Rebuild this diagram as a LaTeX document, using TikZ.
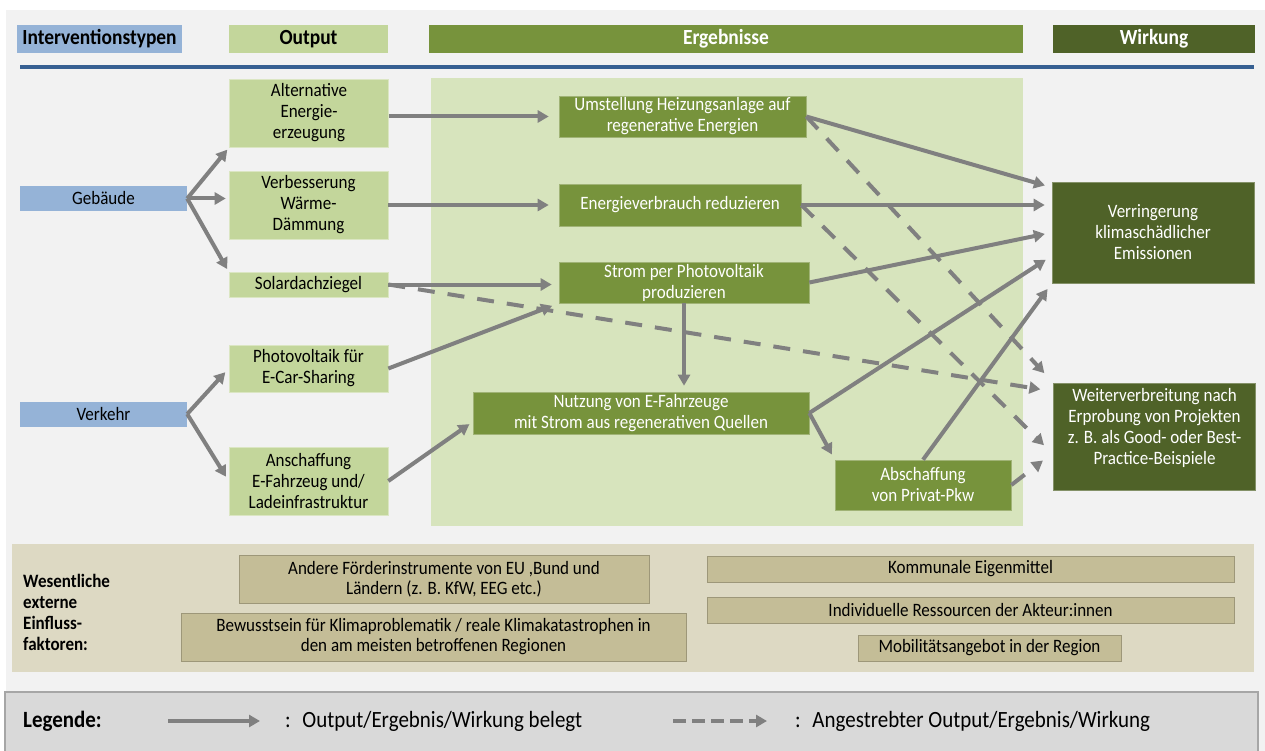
\documentclass[tikz,border=0pt]{standalone}
\usepackage{fontspec}
\setmainfont{Carlito}[FakeStretch=0.9]
\usetikzlibrary{arrows.meta}
\definecolor{bg_grey}{HTML}{F2F2F2}
\definecolor{iv_blue}{HTML}{95B3D7}
\definecolor{out_green}{HTML}{C3D69B}
\definecolor{erg_green}{HTML}{77933C}
\definecolor{wirk_green}{HTML}{4F6228}
\definecolor{area_green}{HTML}{D7E4BD}
\definecolor{line_blue}{HTML}{376092}
\definecolor{arr_grey}{HTML}{808080}
\definecolor{ext_beige}{HTML}{DDD9C3}
\definecolor{ext_box}{HTML}{C4BD97}
\definecolor{leg_grey}{HTML}{D9D9D9}
\definecolor{leg_line}{HTML}{A6A6A6}
\newcommand{\bxfont}{\fontsize{18.9}{21}\selectfont}
\newcommand{\hdfont}{\fontsize{21.6}{23}\selectfont\bfseries}
\newcommand{\lgfont}{\fontsize{23.3}{25}\selectfont}
\tikzstyle{hdr}=[rectangle,inner sep=0pt,minimum height=28pt,font=\hdfont]
\tikzstyle{ivn}=[rectangle,fill=iv_blue,inner sep=0pt,
  minimum width=167pt,minimum height=25pt,font=\bxfont]
\tikzstyle{otn}=[rectangle,fill=out_green,draw=out_green!60!white,line width=0.6pt,
  inner sep=0pt,minimum width=159pt,align=center,font=\bxfont]
\tikzstyle{ern}=[rectangle,fill=erg_green,draw=erg_green!70!white,line width=0.6pt,
  inner sep=0pt,align=center,text=white,font=\bxfont]
\tikzstyle{wkn}=[rectangle,fill=wirk_green,draw=wirk_green!70!white,line width=0.6pt,
  inner sep=0pt,minimum width=202pt,align=center,text=white,font=\bxfont]
\tikzstyle{exn}=[rectangle,fill=ext_box,draw=ext_box!80!black,line width=0.6pt,
  inner sep=0pt,align=center,font=\fontsize{18.9}{20}\selectfont]
\tikzstyle{arr}=[draw=arr_grey,line width=4pt,
  -{Triangle[length=11pt,width=12pt]},shorten >=7pt]
\tikzstyle{darr}=[arr,dash pattern=on 17pt off 13pt]
\tikzstyle{none}=[]

\begin{document}
\begin{tikzpicture}[x=1pt, y=-1pt]
	\useasboundingbox (0, 0) rectangle (1265, 751);
	\fill [bg_grey] (6, 10) rectangle (1265, 751);
	\fill [area_green] (431, 78) rectangle (1023, 526);
	\fill [ext_beige] (12, 544) rectangle (1254, 672);
	\draw [fill=leg_grey, draw=leg_line, line width=1.5pt] (5, 692) rectangle (1258, 760);
	\draw [line_blue, line width=3.5pt] (20, 67) to (1254, 67);

	\node [style=hdr, fill=iv_blue, minimum width=165pt] (0) at (99.5, 39) {Interventionstypen};
	\node [style=hdr, fill=out_green, minimum width=159pt] (1) at (308.5, 39) {Output};
	\node [style=hdr, fill=erg_green, text=white, minimum width=594pt] (2) at (726, 39) {Ergebnisse};
	\node [style=hdr, fill=wirk_green, text=white, minimum width=202pt] (3) at (1154, 39) {Wirkung};

	\node [style=ivn] (4) at (103.5, 198.5) {Gebäude};
	\node [style=ivn] (5) at (103.5, 414) {Verkehr};

	\node [style=otn, minimum height=68pt] (6) at (309, 113) {Alternative\\Energie-\\erzeugung};
	\node [style=otn, minimum height=68pt] (7) at (308.5, 205) {Verbesserung\\Wärme-\\Dämmung};
	\node [style=otn, minimum height=25pt] (8) at (308.5, 284.5) {Solardachziegel};
	\node [style=otn, minimum height=47pt] (9) at (308.5, 368.5) {Photovoltaik für\\E-Car-Sharing};
	\node [style=otn, minimum height=68pt] (10) at (308.5, 481) {Anschaffung\\E-Fahrzeug und/\\Ladeinfrastruktur};

	\node [style=ern, minimum width=247pt, minimum height=41pt] (11) at (682.5, 116.5) {Umstellung Heizungsanlage auf\\regenerative Energien};
	\node [style=ern, minimum width=242pt, minimum height=42pt] (12) at (680, 205) {Energieverbrauch reduzieren};
	\node [style=ern, minimum width=250pt, minimum height=41pt] (13) at (684, 282.5) {Strom per Photovoltaik\\produzieren};
	\node [style=ern, minimum width=336pt, minimum height=42pt] (14) at (641, 413) {Nutzung von E-Fahrzeuge\\mit Strom aus regenerativen Quellen};
	\node [style=ern, minimum width=176pt, minimum height=50pt] (15) at (923, 485) {Abschaffung\\von Privat-Pkw};

	\node [style=wkn, minimum height=101pt] (16) at (1153, 232.5) {Verringerung\\klimaschädlicher\\Emissionen};
	\node [style=wkn, minimum height=107pt] (17) at (1154.5, 436.5) {Weiterverbreitung nach\\Erprobung von Projekten\\z. B. als Good- oder Best-\\Practice-Beispiele\\\mbox{}};

	\node [style=none, inner sep=0pt, anchor=west, align=left, font=\bxfont\bfseries] (18) at (23, 612) {Wesentliche\\externe\\Einfluss-\\faktoren:};
	\node [style=exn, minimum width=410pt, minimum height=48pt] (19) at (444, 579) {Andere Förderinstrumente von EU ,Bund und\\Ländern (z. B. KfW, EEG etc.)};
	\node [style=exn, minimum width=505pt, minimum height=48pt] (20) at (433.5, 637) {Bewusstsein für Klimaproblematik / reale Klimakatastrophen in\\den am meisten betroffenen Regionen};
	\node [style=exn, minimum width=527pt, minimum height=26pt] (21) at (970.5, 569) {Kommunale Eigenmittel};
	\node [style=exn, minimum width=527pt, minimum height=26pt] (22) at (970.5, 610) {Individuelle Ressourcen der Akteur:innen};
	\node [style=exn, minimum width=263pt, minimum height=26pt] (23) at (989.5, 648) {Mobilitätsangebot in der Region};

	\node [style=none, inner sep=0pt, anchor=west, font=\lgfont\bfseries] (24) at (23, 721) {Legende:};
	\coordinate (25) at (168, 721);
	\coordinate (26) at (260, 721);
	\node [style=none, inner sep=0pt, anchor=west, font=\lgfont] (27) at (285, 721) {:\enspace Output/Ergebnis/Wirkung belegt};
	\coordinate (28) at (673, 721);
	\coordinate (29) at (767, 721);
	\node [style=none, inner sep=0pt, anchor=west, font=\lgfont] (30) at (795, 721) {:\enspace Angestrebter Output/Ergebnis/Wirkung};

	\draw [style=arr, shorten >=3pt] (4.east) to (6.south west);
	\draw [style=arr, shorten >=3pt] (4.east) to (4.east -| 7.west);
	\draw [style=arr, shorten >=3pt] (4.east) to (8.north west);
	\draw [style=arr, shorten >=5pt] (5.east) to (9.west);
	\draw [style=arr, shorten >=5pt] (5.east) to (10.west);
	\draw [style=arr, shorten >=10pt] (6.east |- 11.west) to (11.west);
	\draw [style=arr, shorten >=10pt] (7.east) to (12.west);
	\draw [style=arr] (8.east) to (8.east -| 13.west);
	\draw [style=arr] (9.east) to (13.south west);
	\draw [style=arr, shorten >=4pt] (10.east) to (14.183);
	\draw [style=arr, shorten >=6pt] (13.south) to (13.south |- 14.north);
	\draw [style=arr, shorten >=6pt] (14.east) to (15.north west);
	\draw [style=arr] (11.east) to (16.156);
	\draw [style=arr] (12.east) to (12.east -| 16.west);
	\draw [style=arr] (13.east) to (16.west);
	\draw [style=arr] (14.east) to (16.193);
	\draw [style=arr] (15.north) to (16.south west);
	\draw [style=darr, shorten >=13pt] (11.east) to (17.north west);
	\draw [style=darr, shorten >=13pt] (12.east) to (17.190);
	\draw [style=darr, shorten >=13pt] (8.east) to (17.156);
	\draw [style=darr, shorten >=13pt] (15.east) to (17.189);
	\draw [style=arr, shorten >=0pt] (25) to (26);
	\draw [style=darr, shorten >=0pt, dash pattern=on 13pt off 6pt] (28) to (29);
\end{tikzpicture}
\end{document}
